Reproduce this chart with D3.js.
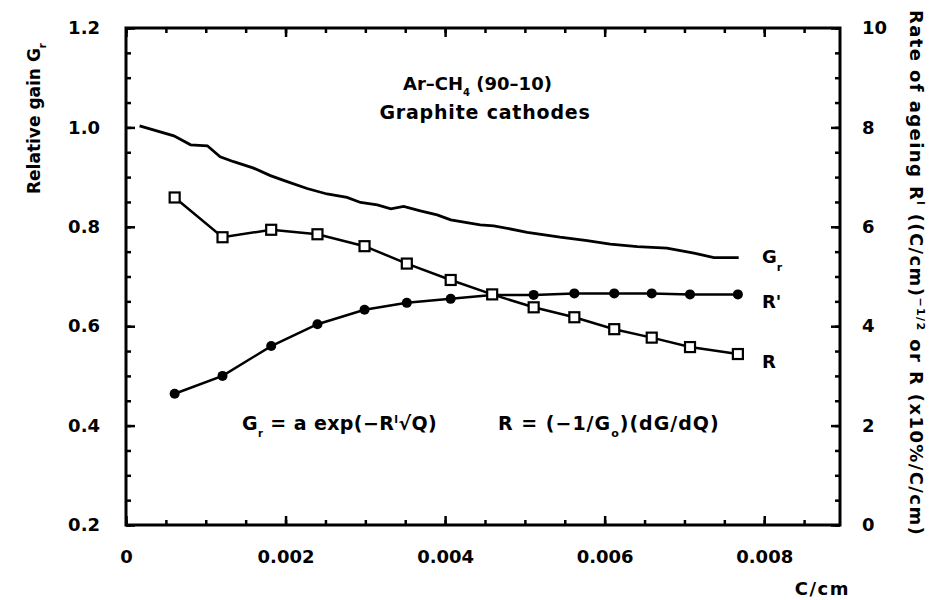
<!DOCTYPE html>
<html>
<head>
<meta charset="utf-8">
<script src="https://cdn.jsdelivr.net/npm/d3@7"></script>
<style>
  body { margin: 0; background: #fff; }
  svg text { font-family: "DejaVu Sans", sans-serif; font-weight: bold; fill: #000; }
</style>
</head>
<body>
<div id="plot-container"></div>
<script>
// data
const gX = [0.00017, 0.0006, 0.00081, 0.00102, 0.00118, 0.00135, 0.0016, 0.00181, 0.00202,
  0.00227, 0.00252, 0.00277, 0.00294, 0.00315, 0.00332, 0.00348, 0.00369, 0.0039, 0.00407,
  0.00444, 0.00461, 0.00503, 0.00544, 0.00578, 0.00607, 0.00641, 0.00678, 0.00712, 0.00737, 0.00768]
const gVal = [1.003, 0.983, 0.965, 0.963, 0.941, 0.931, 0.918, 0.903, 0.891,
  0.877, 0.866, 0.859, 0.849, 0.844, 0.836, 0.841, 0.832, 0.824, 0.814,
  0.804, 0.802, 0.789, 0.779, 0.772, 0.765, 0.76, 0.757, 0.747, 0.738, 0.738]

const markX = [0.00061, 0.00121, 0.00182, 0.0024, 0.00299, 0.00352, 0.00407,
  0.00459, 0.00511, 0.00562, 0.00612, 0.00659, 0.00707, 0.00767]
const rVal = [6.59, 5.79, 5.94, 5.85, 5.61, 5.26, 4.93, 4.64, 4.38, 4.18, 3.94, 3.77, 3.58, 3.44]
const rPrimeVal = [2.64, 3.0, 3.6, 4.04, 4.33, 4.47, 4.55, 4.63, 4.63, 4.66, 4.66, 4.66, 4.64, 4.64]

const xTicks = [0, 0.002, 0.004, 0.006, 0.008]
const xTickLabels = ["0", "0.002", "0.004", "0.006", "0.008"]
const leftTicks = [0.2, 0.4, 0.6, 0.8, 1.0, 1.2]
const rightTicks = [0, 2, 4, 6, 8, 10]

const width = 942
const height = 600
const frame = { left: 126, right: 840, top: 28, bottom: 525 }

const x = d3.scaleLinear().domain([0, 0.00895]).range([frame.left, frame.right])
const yL = d3.scaleLinear().domain([0.2, 1.2]).range([frame.bottom, frame.top])
const yR = d3.scaleLinear().domain([0, 10]).range([frame.bottom, frame.top])

const svg = d3.select("#plot-container").append("svg")
  .attr("width", width).attr("height", height)

// ticks (all pointing inside the frame)
const noText = (g) => g.call((g) => g.select(".domain").remove()).call((g) => g.selectAll("text").remove())
const tickStyle = (g) => g.selectAll(".tick line").attr("stroke", "#000").attr("stroke-width", 2.5)

svg.append("g").attr("transform", `translate(0,${frame.bottom})`)
  .call(d3.axisBottom(x).tickValues(d3.range(0, 0.009, 0.0005)).tickSize(-5)).call(noText).call(tickStyle)
svg.append("g").attr("transform", `translate(0,${frame.bottom})`)
  .call(d3.axisBottom(x).tickValues(xTicks).tickSize(-9).tickPadding(25).tickFormat((d, i) => xTickLabels[i]))
  .call((g) => g.select(".domain").remove()).call(tickStyle)
  .call((g) => g.selectAll("text").attr("font-size", 18))
svg.append("g").attr("transform", `translate(0,${frame.top})`)
  .call(d3.axisTop(x).tickValues(d3.range(0, 0.009, 0.0005)).tickSize(-5)).call(noText).call(tickStyle)
svg.append("g").attr("transform", `translate(0,${frame.top})`)
  .call(d3.axisTop(x).tickValues(xTicks).tickSize(-9)).call(noText).call(tickStyle)

svg.append("g").attr("transform", `translate(${frame.left},0)`)
  .call(d3.axisLeft(yL).tickValues(d3.range(0.2, 1.2001, 0.05)).tickSize(-5)).call(noText).call(tickStyle)
svg.append("g").attr("transform", `translate(${frame.left},0)`)
  .call(d3.axisLeft(yL).tickValues(leftTicks).tickSize(-9).tickPadding(26).tickFormat(d3.format(".1f")))
  .call((g) => g.select(".domain").remove()).call(tickStyle)
  .call((g) => g.selectAll("text").attr("font-size", 18))

svg.append("g").attr("transform", `translate(${frame.right},0)`)
  .call(d3.axisRight(yR).tickValues(d3.range(0, 10.01, 0.5)).tickSize(-5)).call(noText).call(tickStyle)
svg.append("g").attr("transform", `translate(${frame.right},0)`)
  .call(d3.axisRight(yR).tickValues(rightTicks).tickSize(-9).tickPadding(22))
  .call((g) => g.select(".domain").remove()).call(tickStyle)
  .call((g) => g.selectAll("text").attr("font-size", 18))

// frame
svg.append("rect")
  .attr("x", frame.left).attr("y", frame.top)
  .attr("width", frame.right - frame.left).attr("height", frame.bottom - frame.top)
  .attr("fill", "none").attr("stroke", "#000").attr("stroke-width", 3)

// G_r curve
const gLine = d3.line().x((d, i) => x(gX[i])).y((d) => yL(d))
svg.append("path").datum(gVal).attr("d", gLine)
  .attr("fill", "none").attr("stroke", "#000").attr("stroke-width", 2.8)

// R' (filled circles)
const rLine = d3.line().x((d, i) => x(markX[i])).y((d) => yR(d))
svg.append("path").datum(rPrimeVal).attr("d", rLine)
  .attr("fill", "none").attr("stroke", "#000").attr("stroke-width", 2.5)
svg.append("g").selectAll("circle").data(rPrimeVal).join("circle")
  .attr("cx", (d, i) => x(markX[i])).attr("cy", (d) => yR(d)).attr("r", 5).attr("fill", "#000")

// R (open squares)
svg.append("path").datum(rVal).attr("d", rLine)
  .attr("fill", "none").attr("stroke", "#000").attr("stroke-width", 2.5)
svg.append("g").selectAll("rect").data(rVal).join("rect")
  .attr("x", (d, i) => x(markX[i]) - 5).attr("y", (d) => yR(d) - 5)
  .attr("width", 10).attr("height", 10)
  .attr("fill", "#fff").attr("stroke", "#000").attr("stroke-width", 2.2)

// texts
const addText = (xp, yp, size, parts, anchor = "start", spacing = 0) => {
  const t = svg.append("text").attr("x", xp).attr("y", yp).attr("font-size", size)
    .attr("text-anchor", anchor).attr("letter-spacing", spacing)
  parts.forEach(([s, shift, fs]) => {
    t.append("tspan").attr("dy", shift || null).attr("font-size", fs || null).text(s)
  })
  return t
}

addText(403, 90, 18, [["Ar–CH"], ["4", 6, 10], [" (90–10)", -6]])
addText(485, 119, 19, [["Graphite cathodes"]], "middle", 0.8)

addText(242, 430, 19, [["G"], ["r", 7, 10], [" = a exp(−R", -7], ["l", -7, 11], ["√Q)", 7]], "start", 0.4)
addText(498, 430, 19, [["R = (−1/G"], ["o", 7, 11], [")(dG/dQ)", -7]], "start", 1)

addText(762, 263, 18, [["G"], ["r", 8, 11]])
addText(762, 308, 18, [["R'"]])
addText(762, 368, 18, [["R"]])

addText(850, 595, 18, [["C/cm"]], "end", 1.5)

// axis titles
svg.append("text").attr("transform", "translate(40,194) rotate(-90)")
  .attr("font-size", 17)
  .call((t) => {
    t.append("tspan").text("Relative gain G")
    t.append("tspan").attr("dy", 6).attr("font-size", 10).text("r")
  })

svg.append("text").attr("transform", "translate(910,10) rotate(90)")
  .attr("font-size", 18).attr("letter-spacing", 1.4)
  .call((t) => {
    t.append("tspan").text("Rate of ageing R")
    t.append("tspan").attr("dy", -7).attr("font-size", 10).text("l")
    t.append("tspan").attr("dy", 7).text(" ((C/cm)")
    t.append("tspan").attr("dy", -7).attr("font-size", 11).text("−1/2")
    t.append("tspan").attr("dy", 7).text(" or R (x10%/C/cm)")
  })
</script>
</body>
</html>
